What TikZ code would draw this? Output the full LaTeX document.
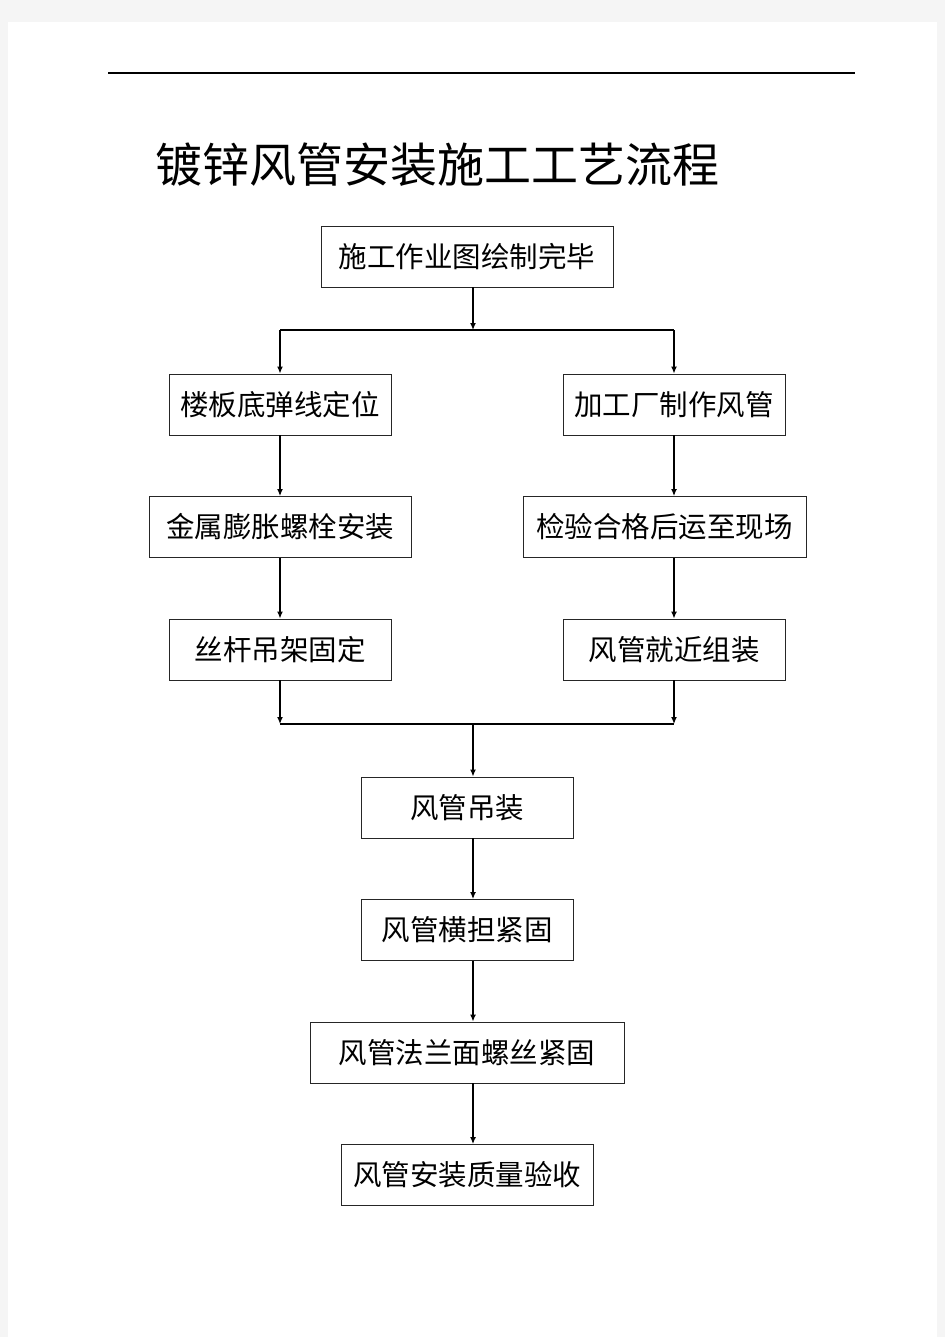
\documentclass[tikz,border=0pt]{standalone}
\usepackage{fontspec}
\setmainfont{Noto Sans CJK SC}
\usetikzlibrary{positioning, arrows.meta}

\begin{document}
\begin{tikzpicture}
	[x=1pt, y=-1pt, on grid, node distance=122.5pt,
	 proc/.style={draw=black!85, line width=0.9pt, minimum height=61pt,
	   inner sep=0pt, font=\fontsize{28.5}{28.5}\selectfont},
	 arr/.style={-{Latex[length=7pt,width=6pt]}, line width=1.3pt},
	 link/.style={line width=1.3pt}]
   % page
   \fill[black!4] (0,0) rectangle (945,1337);
   \fill[white] (8,22) rectangle (937,1337);
   \useasboundingbox (0,0) rectangle (945,1337);
   \draw[line width=1.4pt] (108,73) -- (855,73);
   \node[anchor=west, inner sep=0pt, font=\fontsize{47}{47}\selectfont]
      (title) at (155,165) {镀锌风管安装施工工艺流程};
   % boxes
   \node[proc, minimum width=292pt] (drawn) at (467,256.5) {施工作业图绘制完毕};
   \node[proc, minimum width=222pt] (mark) at (280,404.5) {楼板底弹线定位};
   \node[proc, minimum width=262pt] (bolt) [below=of mark] {金属膨胀螺栓安装};
   \node[proc, minimum width=222pt] (hang) [below=of bolt] {丝杆吊架固定};
   \node[proc, minimum width=222pt] (make) at (674,404.5) {加工厂制作风管};
   \node[proc, minimum width=283pt] (check) [below=of make, xshift=-9.5pt] {检验合格后运至现场};
   \node[proc, minimum width=222pt] (fit) [below=of make, yshift=-122.5pt] {风管就近组装};
   \node[proc, minimum width=212pt] (lift) at (467,807.5) {风管吊装};
   \node[proc, minimum width=212pt] (tie) [below=of lift] {风管横担紧固};
   \node[proc, minimum width=314pt] (flange) [below=of tie] {风管法兰面螺丝紧固};
   \node[proc, minimum width=252pt] (accept) [below=of flange] {风管安装质量验收};
   % split and join
   \coordinate (split) at (473,330);
   \coordinate (join) at (473,724);
   \draw[arr] (drawn.south -| split) -- (split);
   \draw[link] (split -| mark) -- (split -| make);
   \draw[arr] (split -| mark) -- (mark.north);
   \draw[arr] (split -| make) -- (make.north);
   \draw[arr] (mark) -- (bolt);
   \draw[arr] (bolt) -- (hang);
   \draw[arr] (make) -- (check.north -| make);
   \draw[arr] (check.south -| make) -- (fit);
   \draw[arr] (hang) -- (join -| hang);
   \draw[arr] (fit) -- (join -| fit);
   \draw[link] (join -| hang) -- (join -| fit);
   \draw[arr] (join) -- (lift.north -| join);
   \draw[arr] (lift.south -| join) -- (tie.north -| join);
   \draw[arr] (tie.south -| join) -- (flange.north -| join);
   \draw[arr] (flange.south -| join) -- (accept.north -| join);
\end{tikzpicture}
\end{document}
